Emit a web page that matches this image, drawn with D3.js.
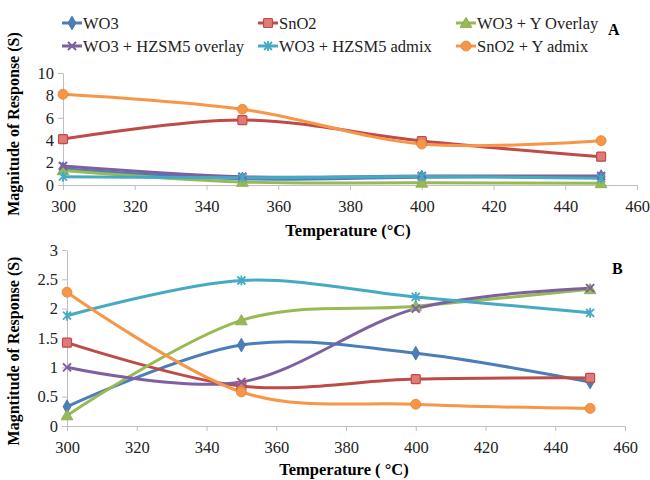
<!DOCTYPE html>
<meta charset="utf-8">
<style>
  body { margin: 0; background: #fff; }
  svg text { font-family: "Liberation Serif", "Times New Roman", serif; }
</style>
<body>
<script src="https://cdn.jsdelivr.net/npm/d3@7"></script>
<script>

var temps = [300, 350, 400, 450];
var seriesNames = ["WO3", "SnO2", "WO3 + Y Overlay", "WO3 + HZSM5 overlay", "WO3 + HZSM5 admix", "SnO2 + Y admix"];
var colors = ["#4a7ebb", "#be4b48", "#98b954", "#7d60a0", "#46aac5", "#f79646"];
var symbols = ["diamond", "square", "triangle", "cross", "star", "circle"];

// panel A
var aWO3     = [1.45, 0.55, 0.7, 0.75];
var aSnO2    = [4.1, 5.8, 3.93, 2.53];
var aWO3Y    = [1.3, 0.27, 0.2, 0.15];
var aHzOver  = [1.7, 0.74, 0.8, 0.8];
var aHzAdmix = [0.74, 0.65, 0.75, 0.6];
var aSnO2Y   = [8.1, 6.76, 3.66, 3.96];

// panel B
var bWO3     = [0.33, 1.38, 1.24, 0.75];
var bSnO2    = [1.42, 0.68, 0.8, 0.82];
var bWO3Y    = [0.18, 1.8, 2.04, 2.33];
var bHzOver  = [1.0, 0.75, 2.0, 2.35];
var bHzAdmix = [1.88, 2.48, 2.2, 1.93];
var bSnO2Y   = [2.28, 0.58, 0.37, 0.3];

var xTicks = [300, 320, 340, 360, 380, 400, 420, 440, 460];
var aTicks = [0, 2, 4, 6, 8, 10];
var bTicks = [0, 0.5, 1, 1.5, 2, 2.5, 3];

var svg = d3.select("body").append("svg")
    .attr("width", 650)
    .attr("height", 480);

function drawMarker(g, type, color, x, y) {
  if (type == "diamond") {
    g.append("path").attr("d", d3.symbol(d3.symbolDiamond, 55)())
      .attr("transform", "translate(" + x + "," + y + ")")
      .attr("fill", color).attr("stroke", d3.color(color).darker(0.3)).attr("stroke-width", 0.8);
  } else if (type == "square") {
    g.append("rect").attr("x", x - 4.5).attr("y", y - 4.5).attr("width", 9).attr("height", 9)
      .attr("rx", 1).attr("fill", "#e07a78").attr("stroke", color).attr("stroke-width", 1.2);
  } else if (type == "triangle") {
    g.append("path").attr("d", d3.symbol(d3.symbolTriangle, 60)())
      .attr("transform", "translate(" + x + "," + (y + 1) + ")")
      .attr("fill", color).attr("stroke", d3.color(color).darker(0.3)).attr("stroke-width", 0.8);
  } else if (type == "cross") {
    g.append("path").attr("d", "M-4,-4L4,4M-4,4L4,-4")
      .attr("transform", "translate(" + x + "," + y + ")")
      .attr("stroke", color).attr("stroke-width", 2);
  } else if (type == "star") {
    g.append("path").attr("d", "M-4,-4L4,4M-4,4L4,-4M0,-5L0,5")
      .attr("transform", "translate(" + x + "," + y + ")")
      .attr("stroke", color).attr("stroke-width", 1.8);
  } else {
    g.append("circle").attr("cx", x).attr("cy", y).attr("r", 5)
      .attr("fill", color).attr("stroke", d3.color(color).darker(0.3)).attr("stroke-width", 0.8);
  }
}

function panel(opts) {
  var x = d3.scaleLinear().domain([300, 460]).range([opts.x0, opts.x1]);
  var y = d3.scaleLinear().domain([0, opts.yMax]).range([opts.y0, opts.y1]);
  var g = svg.append("g");

  g.append("g")
      .attr("transform", "translate(0," + opts.y0 + ")")
      .call(d3.axisBottom(x).tickValues(xTicks).tickSize(5).tickSizeOuter(0).tickPadding(10));
  g.append("g")
      .attr("transform", "translate(" + opts.x0 + ",0)")
      .call(d3.axisLeft(y).tickValues(opts.ticks).tickSize(5).tickSizeOuter(0).tickPadding(4)
        .tickFormat(function(d) { return d; }));
  g.selectAll(".domain, .tick line").attr("stroke", "#bfbfbf").attr("stroke-width", 1);
  g.selectAll(".tick text").attr("font-family", "Liberation Serif").attr("font-size", 16.5).attr("fill", "#222");

  var line = d3.line()
      .x(function(d, i) { return x(temps[i]); })
      .y(function(d) { return y(d); })
      .curve(d3.curveCatmullRom.alpha(0));

  opts.data.forEach(function(vals, k) {
    g.append("path").datum(vals)
      .attr("d", line)
      .attr("fill", "none")
      .attr("stroke", colors[k])
      .attr("stroke-width", 3);
  });
  opts.data.forEach(function(vals, k) {
    vals.forEach(function(v, i) {
      drawMarker(g, symbols[k], colors[k], x(temps[i]), y(v));
    });
  });

  g.append("text")
    .attr("x", (opts.x0 + opts.x1) / 2 - 2).attr("y", opts.xTitleY)
    .attr("text-anchor", "middle").attr("font-weight", "bold").attr("font-size", 16.5)
    .text(opts.xTitle);
  g.append("text")
    .attr("transform", "translate(19," + opts.yTitleY + ") rotate(-90)")
    .attr("text-anchor", "middle").attr("font-weight", "bold").attr("font-size", 16)
    .text(opts.yTitle);
  g.append("text")
    .attr("x", opts.labX).attr("y", opts.labY)
    .attr("font-weight", "bold").attr("font-size", 16)
    .text(opts.label);
}

panel({
  x0: 63, x1: 637, y0: 185, y1: 73, yMax: 10, ticks: aTicks,
  data: [aWO3, aSnO2, aWO3Y, aHzOver, aHzAdmix, aSnO2Y],
  xTitle: "Temperature (°C)", xTitleY: 236,
  yTitle: "Magnitude of Response (S)", yTitleY: 124,
  label: "A", labX: 608, labY: 35
});

panel({
  x0: 67, x1: 625, y0: 426, y1: 250, yMax: 3, ticks: bTicks,
  data: [bWO3, bSnO2, bWO3Y, bHzOver, bHzAdmix, bSnO2Y],
  xTitle: "Temperature ( °C)", xTitleY: 475,
  yTitle: "Magntitude of Response (S)", yTitleY: 351,
  label: "B", labX: 612, labY: 274
});

// legend
var legX = [62, 258, 456];
var legY = [23, 46];
var legend = svg.append("g");
seriesNames.forEach(function(name, k) {
  var lx = legX[k % 3], ly = legY[Math.floor(k / 3)];
  legend.append("line")
    .attr("x1", lx).attr("x2", lx + 20).attr("y1", ly).attr("y2", ly)
    .attr("stroke", colors[k]).attr("stroke-width", 3);
  drawMarker(legend, symbols[k], colors[k], lx + 10, ly);
  legend.append("text")
    .attr("x", lx + 21).attr("y", ly + 5.5)
    .attr("font-size", 16.5).attr("fill", "#222")
    .text(name);
});

</script>
</body>
